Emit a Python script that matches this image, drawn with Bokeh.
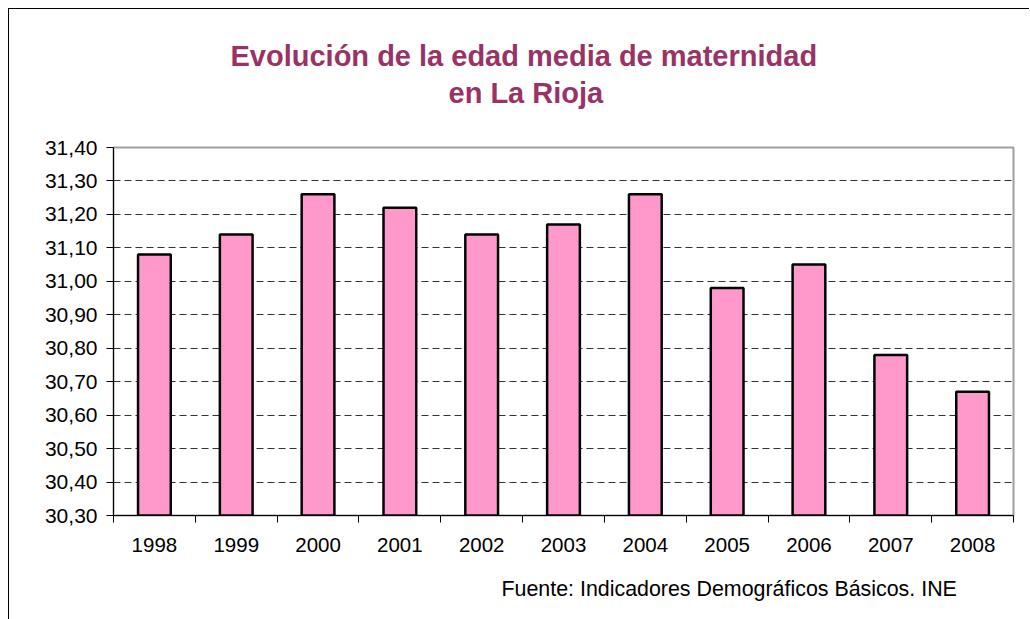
import numpy as np
from bokeh.plotting import figure
from bokeh.models import FixedTicker, Title, Range1d
from bokeh.embed import file_html
from bokeh.resources import INLINE

years = ["1998", "1999", "2000", "2001", "2002", "2003", "2004", "2005", "2006", "2007", "2008"]
edad = [31.08, 31.14, 31.26, 31.22, 31.14, 31.17, 31.26, 30.98, 31.05, 30.78, 30.67]
y_ticks = [30.30, 30.40, 30.50, 30.60, 30.70, 30.80, 30.90, 31.00, 31.10, 31.20, 31.30, 31.40]
y_labels = ["30,30", "30,40", "30,50", "30,60", "30,70", "30,80", "30,90", "31,00", "31,10", "31,20", "31,30", "31,40"]
title_lines = ["Evolución de la edad media de maternidad", "en La Rioja"]
fuente = "Fuente: Indicadores Demográficos Básicos. INE"

FONT = "Liberation Sans"
W, H = 1021, 611

xc = np.arange(len(years)) + 0.5
p = figure(width=W, height=H, output_backend="svg", toolbar_location=None, title=None,
           x_range=Range1d(0, len(years)), y_range=Range1d(y_ticks[0], y_ticks[-1]),
           min_border_left=104, min_border_right=17, min_border_top=138, min_border_bottom=105)
p.styles = {"margin-left": "8px", "margin-top": "8px",
            "border-left": "1px solid black", "border-top": "1px solid black"}

p.vbar(x=xc, top=edad, bottom=y_ticks[0], width=0.4, fill_color="#FF99CC",
       line_color="black", line_width=2.5)

# y axis
p.yaxis.ticker = FixedTicker(ticks=y_ticks)
p.yaxis.major_label_overrides = {t: l for t, l in zip(y_ticks, y_labels)}
p.yaxis.major_tick_in = 0
p.yaxis.major_tick_out = 7
p.yaxis.minor_tick_line_color = None
p.yaxis.axis_line_color = "black"
p.yaxis.major_tick_line_color = "black"
p.yaxis.major_label_standoff = 9
p.yaxis.major_label_text_font = FONT
p.yaxis.major_label_text_font_size = "21px"
p.yaxis.major_label_text_color = "black"

# x axis
p.xaxis.ticker = FixedTicker(ticks=list(xc), minor_ticks=list(range(len(years) + 1)))
p.xaxis.major_label_overrides = {float(x): y for x, y in zip(xc, years)}
p.xaxis.major_tick_line_color = None
p.xaxis.major_tick_in = 0
p.xaxis.major_tick_out = 0
p.xaxis.minor_tick_in = 0
p.xaxis.minor_tick_out = 7
p.xaxis.minor_tick_line_color = "black"
p.xaxis.axis_line_color = "black"
p.xaxis.major_label_standoff = 15
p.xaxis.major_label_text_font = FONT
p.xaxis.major_label_text_font_size = "20.5px"
p.xaxis.major_label_text_color = "black"

# grid
p.xgrid.grid_line_color = None
p.ygrid.ticker = FixedTicker(ticks=y_ticks[1:-1])
p.ygrid.grid_line_color = "#333333"
p.ygrid.grid_line_dash = "7 4"
p.ygrid.grid_line_width = 1

p.outline_line_color = "#a0a0a0"
p.outline_line_width = 2
p.background_fill_color = "white"
p.border_fill_color = "white"

# titles (above panel: first added is nearest to the frame); first one is a spacer
p.add_layout(Title(text=" ", standoff=34, text_font_size="1px"), "above")
p.add_layout(Title(text=title_lines[1], align="left", offset=335, standoff=3, text_font=FONT,
                   text_font_style="bold", text_font_size="29px", text_color="#993366"), "above")
p.add_layout(Title(text=title_lines[0], align="left", offset=117, standoff=3, text_font=FONT,
                   text_font_style="bold", text_font_size="29px", text_color="#993366"), "above")
# source
p.add_layout(Title(text=fuente, align="left", offset=388, standoff=40, text_font=FONT,
                   text_font_style="normal", text_font_size="21.4px", text_color="black"), "below")

open("out.html", "w").write(file_html(p, INLINE))
